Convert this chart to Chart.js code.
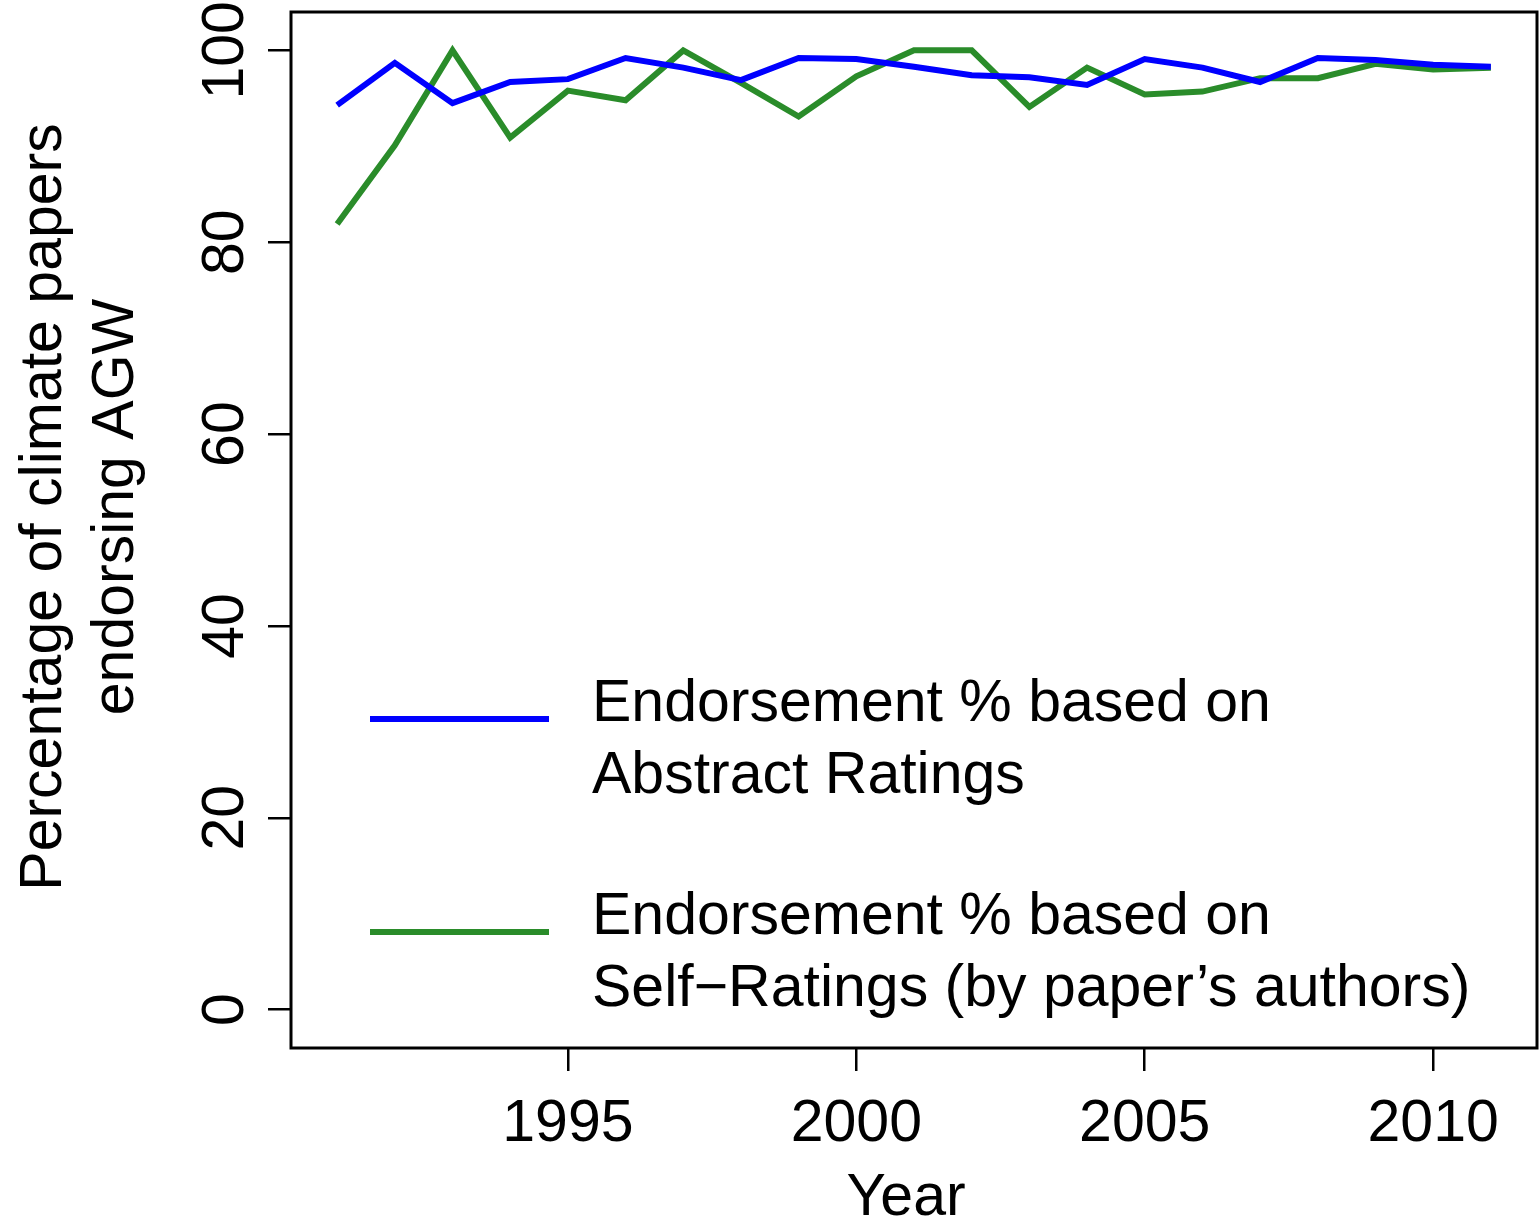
<!DOCTYPE html>
<html>
<head>
<meta charset="utf-8">
<script src="https://cdn.jsdelivr.net/npm/chart.js@4.4.1/dist/chart.umd.min.js"></script>
<style>
  html, body { margin: 0; padding: 0; background: #fff; }
  #wrap { width: 1540px; height: 1222px; }
</style>
</head>
<body>
<div id="wrap"><canvas id="chart" width="1540" height="1222"></canvas></div>
<script>
const years = [1991, 1992, 1993, 1994, 1995, 1996, 1997, 1998, 1999, 2000,
               2001, 2002, 2003, 2004, 2005, 2006, 2007, 2008, 2009, 2010, 2011];
const abstractRatings = [94.3, 98.7, 94.5, 96.7, 97.0, 99.2, 98.2, 96.9, 99.2, 99.1,
                         98.3, 97.4, 97.2, 96.4, 99.1, 98.2, 96.7, 99.2, 99.0, 98.5, 98.3];
const selfRatings = [81.9, 90.1, 100, 90.9, 95.8, 94.8, 100, 96.6, 93.1, 97.3,
                     100, 100, 94.1, 98.2, 95.4, 95.7, 97.1, 97.1, 98.6, 98.0, 98.2];
const xTicks = [1995, 2000, 2005, 2010];
const yTicks = [0, 20, 40, 60, 80, 100];
const legendLabels = [
    ['Endorsement % based on', 'Abstract Ratings'],
    ['Endorsement % based on', 'Self\u2212Ratings (by paper\u2019s authors)']
];

const FONT = '"Liberation Sans", Arial, sans-serif';
const FONT_SIZE = 59;
const BLUE = '#0000ff';
const GREEN = '#2a8c2a';

// box, rotated y labels, axis titles and legend, R style
const rStyle = {
    id: 'rStyle',
    afterDraw(chart) {
        const ctx = chart.ctx;
        const a = chart.chartArea;
        const ys = chart.scales.y;
        ctx.save();
        ctx.strokeStyle = '#000';
        ctx.lineWidth = 3;
        ctx.strokeRect(a.left, a.top, a.right - a.left, a.bottom - a.top);

        ctx.fillStyle = '#000';
        ctx.font = FONT_SIZE + 'px ' + FONT;
        ctx.textAlign = 'center';
        ctx.textBaseline = 'alphabetic';
        yTicks.forEach(v => {
            ctx.save();
            ctx.translate(243, ys.getPixelForValue(v));
            ctx.rotate(-Math.PI / 2);
            ctx.fillText(String(v), 0, 0);
            ctx.restore();
        });

        ctx.save();
        ctx.translate(61, 507);
        ctx.rotate(-Math.PI / 2);
        ctx.fillText('Percentage of climate papers', 0, 0);
        ctx.fillText('endorsing AGW', 0, 72);
        ctx.restore();

        ctx.fillText('Year', 906, 1215);

        // legend
        const colors = [BLUE, GREEN];
        const lineY = [719, 932];
        ctx.textAlign = 'left';
        ctx.lineWidth = 6;
        legendLabels.forEach((lines, i) => {
            ctx.strokeStyle = colors[i];
            ctx.beginPath();
            ctx.moveTo(370, lineY[i]);
            ctx.lineTo(549, lineY[i]);
            ctx.stroke();
            ctx.fillText(lines[0], 592, lineY[i] + 2);
            ctx.fillText(lines[1], 592, lineY[i] + 74);
        });
        ctx.restore();
    }
};

new Chart(document.getElementById('chart'), {
    type: 'line',
    data: {
        datasets: [
            {
                label: 'Abstract Ratings',
                data: years.map((yr, i) => ({ x: yr, y: abstractRatings[i] })),
                borderColor: BLUE,
                borderWidth: 6,
                pointRadius: 0,
                tension: 0
            },
            {
                label: 'Self-Ratings',
                data: years.map((yr, i) => ({ x: yr, y: selfRatings[i] })),
                borderColor: GREEN,
                borderWidth: 6,
                pointRadius: 0,
                tension: 0
            }
        ]
    },
    options: {
        responsive: false,
        animation: false,
        layout: { padding: { top: 12, right: 3, left: 0, bottom: 0 } },
        plugins: {
            legend: { display: false },
            tooltip: { enabled: false }
        },
        scales: {
            x: {
                type: 'linear',
                min: 1990.2,
                max: 2011.8,
                afterBuildTicks: s => { s.ticks = xTicks.map(v => ({ value: v })); },
                afterFit: s => { s.height = 174; },
                border: { display: false },
                grid: {
                    drawOnChartArea: false,
                    drawTicks: true,
                    tickLength: 23,
                    color: '#000',
                    lineWidth: 2.5
                },
                ticks: {
                    autoSkip: false,
                    maxRotation: 0,
                    padding: 18,
                    color: '#000',
                    font: { family: FONT, size: FONT_SIZE },
                    callback: v => String(v)
                }
            },
            y: {
                min: -4,
                max: 104,
                afterBuildTicks: s => { s.ticks = yTicks.map(v => ({ value: v })); },
                afterFit: s => { s.width = 291; },
                border: { display: false },
                grid: {
                    drawOnChartArea: false,
                    drawTicks: true,
                    tickLength: 23,
                    color: '#000',
                    lineWidth: 2.5
                },
                ticks: {
                    callback: () => ''
                }
            }
        }
    },
    plugins: [rStyle]
});
</script>
</body>
</html>
